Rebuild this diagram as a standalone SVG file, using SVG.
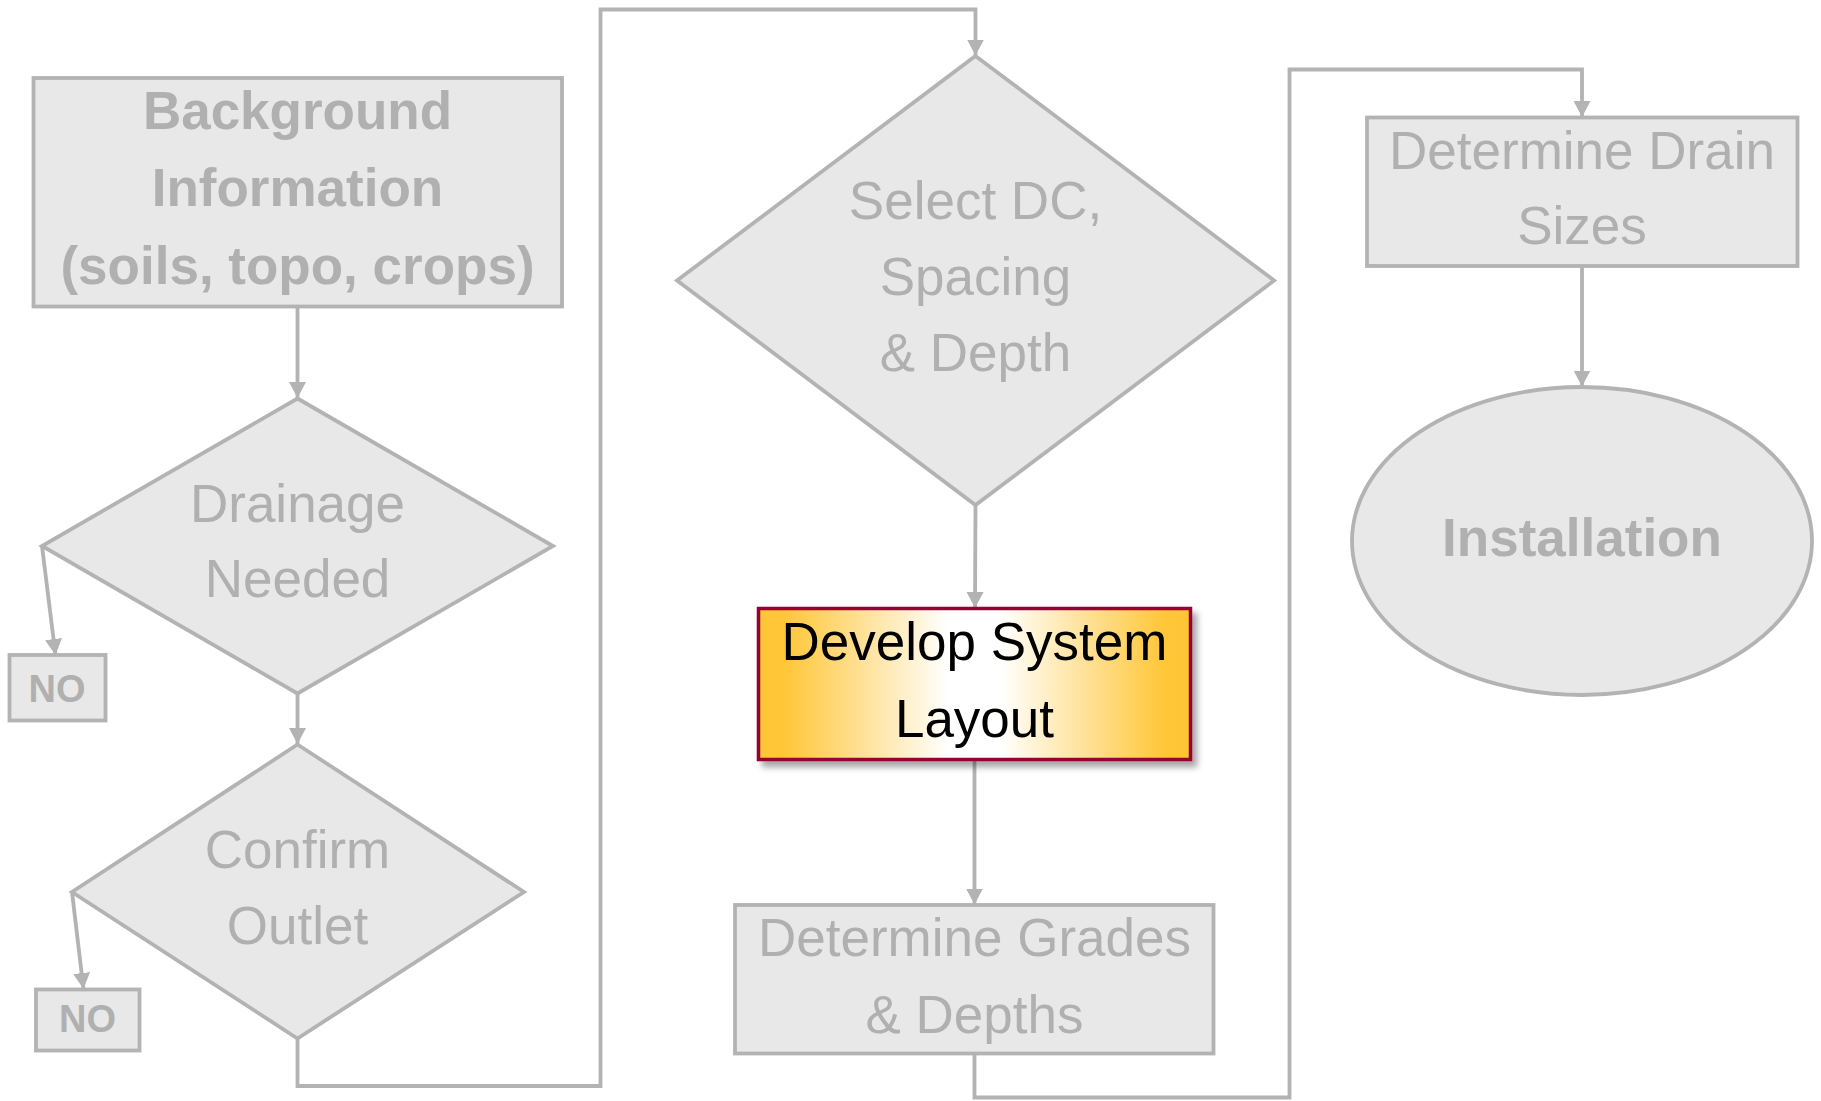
<svg xmlns="http://www.w3.org/2000/svg" width="1821" height="1101" viewBox="0 0 1821 1101">
<style>
.shape{fill:#e8e8e8;stroke:#b3b3b3;stroke-width:3.8}
.conn{fill:none;stroke:#b3b3b3;stroke-width:3.8}
.t{font-family:"Liberation Sans",Arial,sans-serif;font-size:53px;fill:#b0b0b0;text-anchor:middle}
.b{font-weight:bold}
.no{font-family:"Liberation Sans",Arial,sans-serif;font-size:38px;font-weight:bold;fill:#b0b0b0;text-anchor:middle}
.dk{fill:#000}
</style>
<defs>
<marker id="arr" markerUnits="userSpaceOnUse" markerWidth="18" markerHeight="18" refX="16" refY="8.5" orient="auto">
<path d="M0,0 L16,8.5 L0,17 Z" fill="#b3b3b3"/>
</marker>
<linearGradient id="gold" x1="0" y1="0" x2="1" y2="0">
<stop offset="0" stop-color="#FFC533"/>
<stop offset="0.06" stop-color="#FFC638"/>
<stop offset="0.44" stop-color="#FFFFFF"/>
<stop offset="0.56" stop-color="#FFFFFF"/>
<stop offset="0.94" stop-color="#FFC638"/>
<stop offset="1" stop-color="#FFC533"/>
</linearGradient>
<filter id="sh" x="-10%" y="-10%" width="125%" height="130%">
<feDropShadow dx="5" dy="6" stdDeviation="3" flood-color="#000" flood-opacity="0.35"/>
</filter>
</defs>
<rect width="1821" height="1101" fill="#fff"/>
<g id="connectors">
<path class="conn" d="M297.5,306.5 V398" marker-end="url(#arr)"/>
<path class="conn" d="M42,546 L55.5,655" marker-end="url(#arr)"/>
<path class="conn" d="M297.5,693.5 V744" marker-end="url(#arr)"/>
<path class="conn" d="M72,892 L83.5,989" marker-end="url(#arr)"/>
<path class="conn" d="M297.5,1038.5 V1086 H600.5 V9.5 H975.5 V55.5" marker-end="url(#arr)"/>
<path class="conn" d="M975.5,505 L975,608" marker-end="url(#arr)"/>
<path class="conn" d="M974.5,760 V904.5" marker-end="url(#arr)"/>
<path class="conn" d="M974.5,1053.5 V1097.5 H1289.5 V69.5 H1582 V117" marker-end="url(#arr)"/>
<path class="conn" d="M1582,266 V386.5" marker-end="url(#arr)"/>
</g>
<g id="background">
<rect class="shape" x="33.5" y="78" width="528.5" height="228.5"/>
<text class="t b" x="297.5" y="129">Background</text>
<text class="t b" x="297.5" y="206">Information</text>
<text class="t b" x="297.5" y="284">(soils, topo, crops)</text>
</g>
<g id="drainage">
<polygon class="shape" points="297.5,398.5 553,546 297.5,693.5 42,546"/>
<text class="t" x="297.5" y="522">Drainage</text>
<text class="t" x="297.5" y="597">Needed</text>
</g>
<g id="no1">
<rect class="shape" x="9.5" y="655" width="96" height="65.5"/>
<text class="no" x="57" y="701.5">NO</text>
</g>
<g id="confirm">
<polygon class="shape" points="297.5,744.5 524,892 297.5,1038.5 72,892"/>
<text class="t" x="297.5" y="868">Confirm</text>
<text class="t" x="297.5" y="944">Outlet</text>
</g>
<g id="no2">
<rect class="shape" x="36" y="989.5" width="103.5" height="61"/>
<text class="no" x="87.5" y="1031.5">NO</text>
</g>
<g id="select">
<polygon class="shape" points="975.5,56 1274,280.5 975.5,505 677,280.5"/>
<text class="t" x="975.5" y="218.5">Select DC,</text>
<text class="t" x="975.5" y="295">Spacing</text>
<text class="t" x="975.5" y="371">&amp; Depth</text>
</g>
<g id="develop">
<rect x="758.5" y="608.5" width="432" height="151" fill="url(#gold)" stroke="#990033" stroke-width="3.5" filter="url(#sh)"/>
<text class="t dk" x="974.5" y="660">Develop System</text>
<text class="t dk" x="974.5" y="736.5">Layout</text>
</g>
<g id="grades">
<rect class="shape" x="735" y="905" width="478.5" height="148.5"/>
<text class="t" x="974.5" y="956">Determine Grades</text>
<text class="t" x="974.5" y="1033">&amp; Depths</text>
</g>
<g id="drain">
<rect class="shape" x="1367" y="117.5" width="430.5" height="148.5"/>
<text class="t" x="1582" y="168.5">Determine Drain</text>
<text class="t" x="1582" y="244">Sizes</text>
</g>
<g id="installation">
<ellipse class="shape" cx="1582" cy="541" rx="230" ry="154"/>
<text class="t b" x="1582" y="555.5">Installation</text>
</g>
</svg>
